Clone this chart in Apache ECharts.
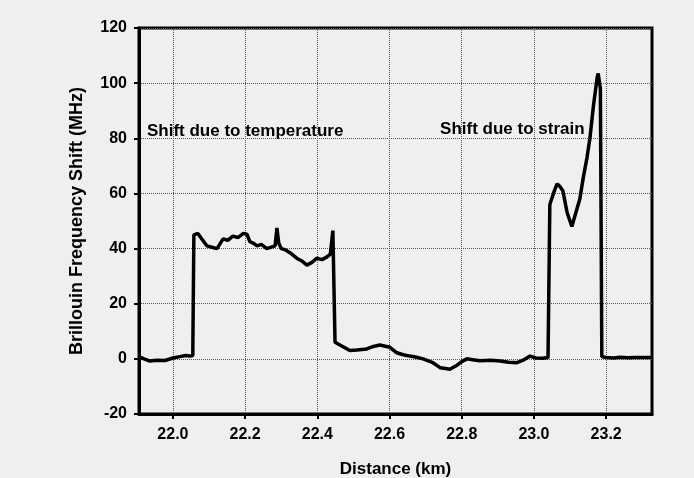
<!DOCTYPE html>
<html>
<head>
<meta charset="utf-8">
<script src="https://cdn.jsdelivr.net/npm/echarts@6.0.0/dist/echarts.min.js"></script>
<style>
  html, body { margin: 0; padding: 0; background: #efefef; }
  #main { width: 694px; height: 478px; }
</style>
</head>
<body>
<div id="main"></div>
<script>
  // distance along the fibre (km) and brillouin shift (MHz)
  var distanceKm = [21.906, 21.92, 21.936, 21.955, 21.978, 22.0, 22.019, 22.035, 22.047, 22.055,
    22.058, 22.069, 22.08, 22.094, 22.108, 22.122, 22.139, 22.152, 22.166, 22.18,
    22.195, 22.205, 22.213, 22.222, 22.233, 22.245, 22.26, 22.272, 22.283, 22.288,
    22.293, 22.3, 22.312, 22.324, 22.343, 22.357, 22.371, 22.385, 22.399, 22.413,
    22.427, 22.436, 22.443, 22.449, 22.454, 22.47, 22.49, 22.51, 22.537, 22.555,
    22.573, 22.601, 22.62, 22.638, 22.656, 22.675, 22.693, 22.72, 22.74, 22.755,
    22.767, 22.787, 22.8, 22.814, 22.83, 22.85, 22.88, 22.906, 22.93, 22.953,
    22.97, 22.989, 23.005, 23.025, 23.039, 23.044, 23.054, 23.064, 23.072, 23.08,
    23.092, 23.105, 23.116, 23.127, 23.137, 23.147, 23.155, 23.165, 23.175, 23.178,
    23.184, 23.188, 23.2, 23.22, 23.238, 23.26, 23.28, 23.3, 23.327];
  var shiftMHz = [0.8, 0, -0.8, -0.5, -0.6, 0.3, 0.8, 1.2, 1.0, 1.2,
    45, 45.5, 43.5, 41, 40.5, 40, 43.5, 43, 44.5, 44,
    45.5, 45.2, 42.5, 42, 41, 41.5, 40, 40.5, 41, 47.5,
    42, 40, 39.5, 38.5, 36.5, 35.5, 34, 35, 36.5, 36,
    37, 38, 46.5, 6, 5.4, 4.5, 3, 3.2, 3.6, 4.5,
    5, 4.2, 2.2, 1.5, 1, 0.6, 0, -1.4, -3.2, -3.5,
    -3.8, -2.3, -1, 0, -0.3, -0.7, -0.5, -0.8, -1.2, -1.4,
    -0.5, 1, 0.3, 0.2, 0.5, 56, 60, 63.5, 62.5, 61,
    53, 48, 53, 58, 66, 73, 80, 92, 102, 103.5,
    98, 0.8, 0.5, 0.3, 0.6, 0.4, 0.5, 0.5, 0.5];
  var xTicks = [22.0, 22.2, 22.4, 22.6, 22.8, 23.0, 23.2];
  var annotations = [
    { text: 'Shift due to temperature', x: 21.928, y: 82.6 },
    { text: 'Shift due to strain', x: 22.74, y: 83.3 }
  ];

  var points = distanceKm.map(function (d, i) { return [d, shiftMHz[i]]; });
  var font = 'Liberation Sans, Arial, sans-serif';
  var gridLine = { show: true, lineStyle: { color: '#555', type: 'dotted', width: 1 } };

  var myChart = echarts.init(document.getElementById('main'));
  var option = {
    backgroundColor: '#efefef',
    animation: false,
    grid: {
      left: 139, right: 42, top: 28, bottom: 64,
      outerBoundsMode: 'none',
      show: true, borderColor: '#000', borderWidth: 3
    },
    xAxis: {
      type: 'value',
      min: 21.906,
      max: 23.327,
      name: 'Distance (km)',
      nameLocation: 'middle',
      nameGap: 47,
      nameTextStyle: { fontFamily: font, fontWeight: 'bold', fontSize: 17, color: '#000' },
      axisLine: { onZero: false, lineStyle: { color: '#000', width: 3 } },
      axisTick: { show: true, inside: false, length: 5, lineStyle: { color: '#000', width: 2 }, customValues: xTicks },
      axisLabel: {
        customValues: xTicks, margin: 13, color: '#000', fontFamily: font, fontWeight: 'bold', fontSize: 16,
        formatter: function (v) { return v.toFixed(1); }
      },
      splitLine: gridLine
    },
    yAxis: {
      type: 'value',
      min: -20,
      max: 120,
      interval: 20,
      name: 'Brillouin Frequency Shift (MHz)',
      nameLocation: 'middle',
      nameGap: 53,
      nameTextStyle: { fontFamily: font, fontWeight: 'bold', fontSize: 18, color: '#000' },
      axisLine: { onZero: false, lineStyle: { color: '#000', width: 3 } },
      axisTick: { show: true, inside: false, length: 5, lineStyle: { color: '#000', width: 2 } },
      axisLabel: { margin: 12, color: '#000', fontFamily: font, fontWeight: 'bold', fontSize: 16 },
      splitLine: gridLine
    },
    series: [{
      type: 'line',
      data: points,
      symbol: 'none',
      lineStyle: { color: '#000', width: 3.5 },
      markPoint: {
        symbol: 'circle',
        symbolSize: 0,
        label: {
          show: true, position: 'right', distance: 0, color: '#000',
          fontFamily: font, fontWeight: 'bold', fontSize: 17,
          formatter: function (p) { return p.name; }
        },
        data: annotations.map(function (a) { return { name: a.text, coord: [a.x, a.y] }; })
      }
    }]
  };
  myChart.setOption(option);
</script>
</body>
</html>
